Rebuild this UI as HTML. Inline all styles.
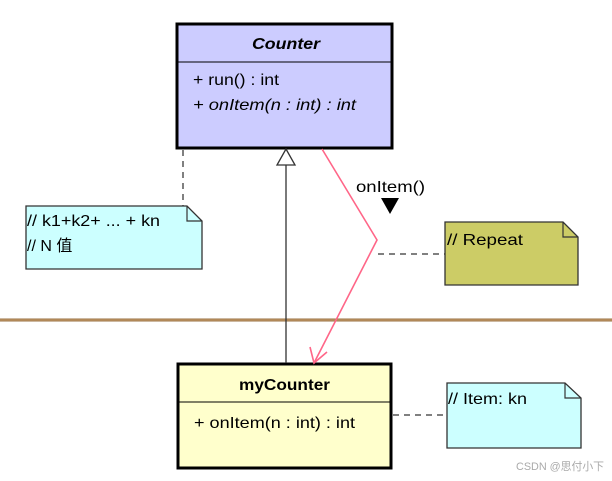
<!DOCTYPE html>
<html><head><meta charset="utf-8"><style>
body{margin:0;width:612px;height:476px;background:#fff;overflow:hidden}
svg text{font-family:"Liberation Sans","Noto Sans CJK SC",sans-serif;font-size:16px;fill:#000}
</style></head><body>
<svg width="612" height="476" viewBox="0 0 612 476" xmlns="http://www.w3.org/2000/svg">
<line x1="0" y1="320" x2="612" y2="320" stroke="#9a7040" stroke-width="3"/>
<line x1="0" y1="320" x2="612" y2="320" stroke="#c8a070" stroke-width="1"/>
<rect x="177" y="24" width="215" height="124" fill="#ccccff" stroke="#000" stroke-width="3"/>
<line x1="177" y1="62" x2="392" y2="62" stroke="#000" stroke-width="1"/>
<text x="252" y="49" font-weight="bold" font-style="italic" textLength="68" lengthAdjust="spacingAndGlyphs">Counter</text>
<text x="193" y="85" textLength="86" lengthAdjust="spacingAndGlyphs">+ run() : int</text>
<text x="193" y="110" font-style="italic" textLength="163" lengthAdjust="spacingAndGlyphs">+ onItem(n : int) : int</text>
<rect x="178" y="364" width="213" height="104" fill="#ffffcc" stroke="#000" stroke-width="3"/>
<line x1="178" y1="402" x2="391" y2="402" stroke="#000" stroke-width="1"/>
<text x="239" y="390" font-weight="bold" textLength="91" lengthAdjust="spacingAndGlyphs">myCounter</text>
<text x="194" y="428" textLength="161" lengthAdjust="spacingAndGlyphs">+ onItem(n : int) : int</text>
<line x1="286" y1="165" x2="286" y2="363" stroke="#333" stroke-width="1.3"/>
<polygon points="286,149 277,165 295,165" fill="#fff" stroke="#333" stroke-width="1.3"/>
<line x1="183" y1="150" x2="183" y2="206" stroke="#000" stroke-dasharray="6,5"/>
<path d="M26,206 L187,206 L202,221 L202,269 L26,269 Z" fill="#ccffff" stroke="#333" stroke-width="1.3"/>
<path d="M187,206 L187,221 L202,221" fill="none" stroke="#333" stroke-width="1.2"/>
<text x="27" y="226" textLength="133" lengthAdjust="spacingAndGlyphs">// k1+k2+ ... + kn</text>
<text x="27" y="251">// N 值</text>
<polyline points="322,149 377,240 314,363" fill="none" stroke="#ff6688" stroke-width="1.6"/>
<polyline points="310,347 314,363 327,352" fill="none" stroke="#ff6688" stroke-width="1.6"/>
<text x="356" y="192" textLength="69" lengthAdjust="spacingAndGlyphs">onItem()</text>
<polygon points="381,198 399,198 390,214" fill="#000"/>
<line x1="378" y1="254" x2="445" y2="254" stroke="#000" stroke-dasharray="6,5"/>
<path d="M445,222 L563,222 L578,237 L578,285 L445,285 Z" fill="#cccc66" stroke="#333" stroke-width="1.3"/>
<path d="M563,222 L563,237 L578,237" fill="none" stroke="#333" stroke-width="1.2"/>
<text x="447" y="245" textLength="76" lengthAdjust="spacingAndGlyphs">// Repeat</text>
<line x1="393" y1="415" x2="446" y2="415" stroke="#000" stroke-dasharray="6,5"/>
<path d="M447,383 L565,383 L581,398 L581,448 L447,448 Z" fill="#ccffff" stroke="#333" stroke-width="1.3"/>
<path d="M565,383 L565,398 L581,398" fill="none" stroke="#333" stroke-width="1.2"/>
<text x="448" y="404" textLength="79" lengthAdjust="spacingAndGlyphs">// Item: kn</text>
<text x="516" y="470" style="font-size:11px;fill:#aaa" textLength="88" lengthAdjust="spacingAndGlyphs">CSDN @思付小下</text>
</svg>
</body></html>
